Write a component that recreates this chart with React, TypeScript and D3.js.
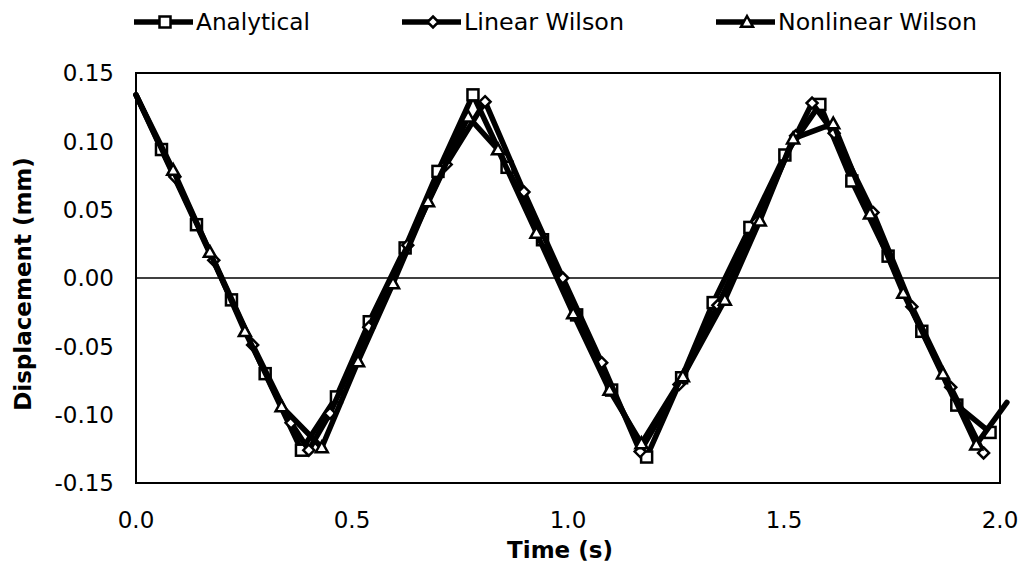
import React from "react";
import * as d3 from "d3";

// ---- data ----
const seriesNames = ["Analytical", "Linear Wilson", "Nonlinear Wilson"];

const analyticalT = [0, 0.059, 0.140, 0.221, 0.299, 0.383, 0.464, 0.540, 0.623, 0.699, 0.780, 0.859, 0.941, 1.020, 1.101, 1.182, 1.263, 1.336, 1.421, 1.502, 1.583, 1.657, 1.741, 1.819, 1.900, 1.977];
const analyticalV = [0.134, 0.094, 0.039, -0.016, -0.070, -0.126, -0.087, -0.032, 0.022, 0.078, 0.134, 0.081, 0.028, -0.027, -0.082, -0.131, -0.073, -0.018, 0.037, 0.090, 0.127, 0.071, 0.016, -0.039, -0.093, -0.113];

const linearT = [0, 0.090, 0.180, 0.270, 0.359, 0.400, 0.449, 0.539, 0.629, 0.718, 0.808, 0.898, 0.988, 1.078, 1.167, 1.257, 1.347, 1.437, 1.527, 1.565, 1.616, 1.706, 1.796, 1.886, 1.962];
const linearV = [0.134, 0.074, 0.013, -0.049, -0.106, -0.126, -0.099, -0.036, 0.024, 0.083, 0.129, 0.063, 0.000, -0.062, -0.127, -0.078, -0.020, 0.041, 0.104, 0.128, 0.106, 0.048, -0.021, -0.080, -0.128];

const nonlinearT = [0, 0.086, 0.171, 0.252, 0.337, 0.430, 0.514, 0.595, 0.676, 0.769, 0.838, 0.927, 1.012, 1.096, 1.170, 1.266, 1.363, 1.444, 1.521, 1.614, 1.699, 1.776, 1.868, 1.945, 2.016];
const nonlinearV = [0.134, 0.079, 0.019, -0.039, -0.094, -0.124, -0.061, -0.004, 0.056, 0.118, 0.094, 0.033, -0.026, -0.082, -0.121, -0.072, -0.016, 0.042, 0.102, 0.113, 0.047, -0.011, -0.070, -0.122, -0.091];

const xTicks = [0, 0.5, 1.0, 1.5, 2.0];
const yTicks = [-0.15, -0.10, -0.05, 0.0, 0.05, 0.10, 0.15];
const xTitle = "Time (s)";
const yTitle = "Displacement (mm)";

// ---- layout ----
const W = 1024, H = 572;
const L = 136, R = 1000, T = 73, B = 483;
const FONT = "Verdana, 'DejaVu Sans', sans-serif";
const FS = 23;

type Shape = "square" | "diamond" | "triangle";
const shapes: Shape[] = ["square", "diamond", "triangle"];

function Marker({ shape, x, y }: { shape: Shape; x: number; y: number }) {
  const sw = 2.5;
  if (shape === "square") {
    const s = 11;
    return <rect x={x - s / 2} y={y - s / 2} width={s} height={s} fill="white" stroke="black" strokeWidth={sw} />;
  }
  if (shape === "diamond") {
    const s = 5.5;
    return <path d={`M${x},${y - s}L${x + s},${y}L${x},${y + s}L${x - s},${y}Z`} fill="white" stroke="black" strokeWidth={sw} />;
  }
  const s = 6;
  return <path d={`M${x},${y - s}L${x + s},${y + s * 0.8}L${x - s},${y + s * 0.8}Z`} fill="white" stroke="black" strokeWidth={sw} />;
}

const fmt2 = (v: number) => d3.format(".2f")(v).replace("\u2212", "-");
const fmt1 = (v: number) => d3.format(".1f")(v).replace("\u2212", "-");

export default function App() {
  const x = d3.scaleLinear().domain([0, 2]).range([L, R]);
  const y = d3.scaleLinear().domain([-0.15, 0.15]).range([B, T]);
  const line = d3.line<[number, number]>().x((d) => x(d[0])).y((d) => y(d[1]));

  const series = [
    { t: analyticalT, v: analyticalV },
    { t: linearT, v: linearV },
    { t: nonlinearT, v: nonlinearV },
  ].map((s, i) => ({
    name: seriesNames[i],
    shape: shapes[i],
    pts: s.t.map((t, j) => [t, s.v[j]] as [number, number]),
  }));

  const legendX = [134, 402, 716];
  const legendW = [114, 160, 199];

  return (
    <svg width={W} height={H} style={{ position: "absolute", left: 0, top: 0, background: "white" }} fontFamily={FONT}>
      <rect x={0} y={0} width={W} height={H} fill="white" />
      {/* zero line */}
      <line x1={L} x2={R} y1={y(0)} y2={y(0)} stroke="black" strokeWidth={1.5} />
      {/* plot border */}
      <rect x={L} y={T} width={R - L} height={B - T} fill="none" stroke="black" strokeWidth={2} />

      {series.map((s) => (
        <g key={s.name}>
          <path d={line(s.pts) || ""} fill="none" stroke="black" strokeWidth={5.5} strokeLinejoin="round" strokeLinecap="round" />
          {s.pts
            .filter((p) => p[0] > 0 && p[0] <= 2)
            .map((p, j) => (
              <Marker key={j} shape={s.shape} x={x(p[0])} y={y(p[1])} />
            ))}
        </g>
      ))}

      {/* y tick labels */}
      {yTicks.map((v) => (
        <text key={v} x={L - 22} y={y(v)} dy="0.36em" textAnchor="end" fontSize={FS} fill="black">
          {fmt2(v)}
        </text>
      ))}
      {/* x tick labels */}
      {xTicks.map((v) => (
        <text key={v} x={x(v)} y={B + 45} textAnchor="middle" fontSize={FS} fill="black">
          {fmt1(v)}
        </text>
      ))}

      <text x={(L + R) / 2 - 8} y={558} textAnchor="middle" fontSize={FS} fontWeight="bold">
        {xTitle}
      </text>
      <text transform={`translate(31,284) rotate(-90)`} textAnchor="middle" fontSize={FS} fontWeight="bold">
        {yTitle}
      </text>

      {/* legend */}
      {series.map((s, i) => (
        <g key={s.name} transform={`translate(${legendX[i]},22)`}>
          <line x1={0} x2={59} y1={0} y2={0} stroke="black" strokeWidth={5.5} />
          <Marker shape={s.shape} x={31} y={0} />
          <text x={62} y={0} dy="0.36em" fontSize={FS} textLength={legendW[i]} lengthAdjust="spacingAndGlyphs">
            {s.name}
          </text>
        </g>
      ))}
    </svg>
  );
}
